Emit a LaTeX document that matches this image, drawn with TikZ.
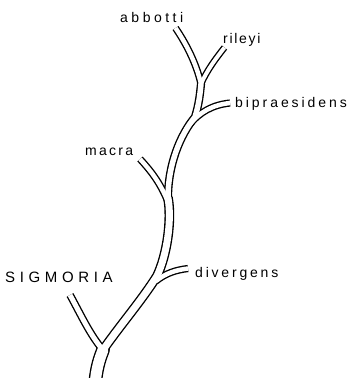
\documentclass[tikz,border=0pt]{standalone}
\usepackage{fontspec}
\setmainfont{Liberation Sans}
\tikzset{
  lab/.style={anchor=base west, inner sep=0pt, font=\fontsize{14}{16}\selectfont},
}
\newcommand\drawtree[2]{%
  \begin{scope}[draw=#2]
  % trunk and main stem
  \draw[line cap=round, line width=#1+11pt] (base) .. controls (96,370) and (99,360) .. (jS);
  \draw[line cap=round, line width=#1+7pt] (jS) .. controls (118,328) and (142,300) .. (jD)
        .. controls (167,255) and (172,220) .. (jM);
  \draw[line cap=round, line width=#1+5.5pt] (jM) .. controls (168,165) and (180,135) .. (jB)
        .. controls (199,104) and (200,94) .. (jT);
  % branches
  \draw[line cap=butt, line width=#1+5pt] (jS) .. controls (90,335) and (80,313) .. (tS);
  \draw[line cap=butt, line width=#1+4.5pt] (dD) .. controls (166,273) and (176,270) .. (tD);
  \draw[line cap=butt, line width=#1+4.5pt] (dM) .. controls (160,182) and (150,170) .. (tM);
  \draw[line cap=butt, line width=#1+4.5pt] (dB) .. controls (200,112) and (212,105) .. (tB);
  \draw[line cap=butt, line width=#1+4.5pt] (jT) .. controls (196,62) and (185,42) .. (tA);
  \draw[line cap=butt, line width=#1+4pt] (jT) .. controls (207,70) and (217,57) .. (tR);
  \end{scope}}
\begin{document}
\begin{tikzpicture}[x=1pt, y=-1pt]
\useasboundingbox (0,0) rectangle (349,378);
\coordinate (base) at (95,386);
\coordinate (jS) at (103,350);
\coordinate (tS) at (70,295);
\coordinate (jD) at (157,276);
\coordinate (dD) at (156,281);
\coordinate (tD) at (188,268.5);
\coordinate (jM) at (168,198);
\coordinate (dM) at (168,202);
\coordinate (tM) at (140,159);
\coordinate (jB) at (195,117);
\coordinate (dB) at (189,125);
\coordinate (tB) at (230,103);
\coordinate (jT) at (201,84);
\coordinate (tA) at (175.5,28);
\coordinate (tR) at (224.5,47.5);
\drawtree{2.7pt}{black}
\drawtree{0pt}{white}
\node[lab] (labA) at (120,22) {\addfontfeature{LetterSpace=25}abbotti};
\node[lab] (labR) at (223,43) {\addfontfeature{LetterSpace=12}rileyi};
\node[lab] (labB) at (235,107) {\addfontfeature{LetterSpace=21}bipraesidens};
\node[lab] (labM) at (85,155) {\addfontfeature{LetterSpace=16}macra};
\node[lab] (labD) at (195,277) {\addfontfeature{LetterSpace=20}divergens};
\node[lab, font=\fontsize{15}{17}\selectfont] (labS) at (5,282) {\addfontfeature{LetterSpace=31}SIGMORIA};
\end{tikzpicture}
\end{document}
